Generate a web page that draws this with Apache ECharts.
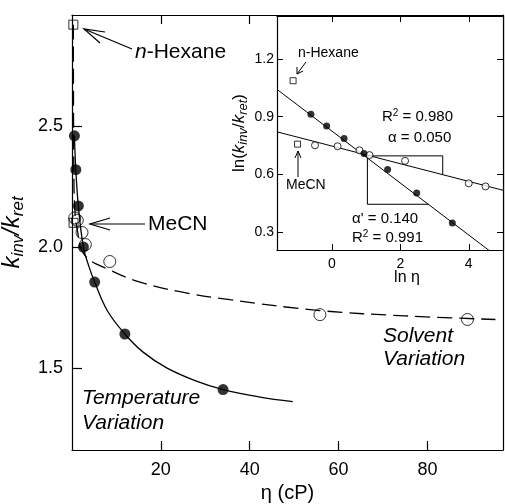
<!DOCTYPE html>
<html>
<head>
<meta charset="utf-8">
<script src="https://cdn.jsdelivr.net/npm/echarts@6/dist/echarts.min.js"></script>
<style>
html,body{margin:0;padding:0;background:#fff;}
#c{width:505px;height:504px;}
</style>
</head>
<body>
<div id="c"></div>
<script>
// ---------- Main panel data (η in cP, k_inv/k_ret) ----------
var tempEta = [0.54, 0.86, 1.43, 2.56, 5.1, 11.9, 34.0];
var tempK   = [2.46, 2.32, 2.17, 2.00, 1.855, 1.64, 1.41];
var solvEta = [0.61, 1.19, 2.25, 3.0, 8.5, 55.8, 89.0];
var solvK   = [2.12, 2.11, 2.06, 2.01, 1.94, 1.72, 1.70];
var sqEta   = [0.3, 0.35];
var sqK     = [2.92, 2.10];
// fitted curves
var tempCurveEta = [0.54, 0.86, 1.43, 2.56, 3.8, 5.1, 8.0, 11.9, 16.0, 21.3, 28.0, 34.0, 42.0, 49.7];
var tempCurveK   = [2.46, 2.32, 2.17, 2.00, 1.92, 1.855, 1.735, 1.64, 1.565, 1.50, 1.445, 1.41, 1.38, 1.36];
var solvCurveEta = [0.3, 0.33, 0.4, 0.6, 1.2, 2.9, 8.5, 15.3, 24.3, 35.5, 55.8, 75.0, 95.3];
var solvCurveK   = [2.92, 2.65, 2.35, 2.17, 2.07, 1.965, 1.905, 1.855, 1.815, 1.782, 1.737, 1.715, 1.70];
var mainXTicks = [20, 40, 60, 80];
var mainYTicks = [1.5, 2.0, 2.5];

// ---------- Inset data (ln η, ln(k_inv/k_ret)) ----------
var inTempLnEta = [-0.61, -0.15, 0.36, 0.94, 1.63, 2.48, 3.52];
var inTempLnK   = [0.912, 0.852, 0.786, 0.708, 0.625, 0.503, 0.346];
var inSolvLnEta = [-0.49, 0.17, 0.81, 1.10, 2.14, 4.00, 4.49];
var inSolvLnK   = [0.751, 0.746, 0.725, 0.700, 0.670, 0.553, 0.537];
var inSqLnEta   = [-1.13, -1.0];
var inSqLnK     = [1.087, 0.757];
var fitTempX = [-1.6, 4.62];
var fitTempY = [1.042, 0.20];
var fitSolvX = [-1.6, 5.0];
var fitSolvY = [0.821, 0.517];
var triUpX = [1.04, 3.24, 3.24];
var triUpY = [0.696, 0.696, 0.598];
var triLoX = [1.04, 1.04, 2.83];
var triLoY = [0.696, 0.444, 0.444];
var inXTicks = [0, 2, 4];
var inYTicks = [0.3, 0.6, 0.9, 1.2];

function zip(a, b) { return a.map(function (v, i) { return [v, b[i]]; }); }

var FF = 'Liberation Sans, Arial, Helvetica, sans-serif';
var LW = 1.2;

var chart = echarts.init(document.getElementById('c'), null, {renderer: 'canvas'});

function mkAxis(o) {
  var base = {
    type: 'value',
    splitLine: {show: false},
    axisLine: {show: true, onZero: false, lineStyle: {color: '#000', width: LW}},
    axisTick: {show: true, inside: true, length: 9, lineStyle: {color: '#000', width: LW}},
    axisLabel: {show: false, color: '#000', fontFamily: FF},
    nameTextStyle: {color: '#000', fontFamily: FF}
  };
  return Object.assign(base, o);
}

var option = {
  animation: false,
  backgroundColor: '#fff',
  textStyle: {fontFamily: FF},
  grid: [
    {left: 72, top: 15, width: 431, height: 435, show: false, z: 0, containLabel: false, outerBoundsMode: 'none'},
    {left: 277, top: 16, width: 226, height: 234, show: true, backgroundColor: '#fff', borderWidth: 0, z: 10,
      containLabel: false, outerBoundsMode: 'none'}
  ],
  xAxis: [
    mkAxis({gridIndex: 0, position: 'bottom', min: 0, max: 97,
      axisTick: {show: true, inside: true, length: 9, customValues: mainXTicks, lineStyle: {color: '#000', width: LW}},
      axisLabel: {show: true, customValues: mainXTicks, fontSize: 18, margin: 11, color: '#000', fontFamily: FF},
      name: 'η (cP)', nameLocation: 'middle', nameGap: 28,
      nameTextStyle: {fontSize: 20, color: '#000', fontFamily: FF}}),
    mkAxis({gridIndex: 0, position: 'top', min: 0, max: 97,
      axisTick: {show: true, inside: true, length: 9, customValues: mainXTicks, lineStyle: {color: '#000', width: LW}}}),
    mkAxis({gridIndex: 1, position: 'bottom', min: -1.6, max: 5.0, z: 12,
      axisTick: {show: true, inside: true, length: 6, customValues: inXTicks, lineStyle: {color: '#000', width: 1}},
      axisLabel: {show: true, customValues: inXTicks, fontSize: 14, margin: 7, color: '#000', fontFamily: FF}}),
    mkAxis({gridIndex: 1, position: 'top', min: -1.6, max: 5.0, z: 12,
      axisTick: {show: true, inside: true, length: 6, customValues: inXTicks, lineStyle: {color: '#000', width: 1}}})
  ],
  yAxis: [
    mkAxis({gridIndex: 0, position: 'left', min: 1.16, max: 2.96,
      axisTick: {show: true, inside: true, length: 10, customValues: mainYTicks, lineStyle: {color: '#000', width: LW}},
      axisLabel: {show: true, customValues: mainYTicks, fontSize: 18, margin: 9, color: '#000', fontFamily: FF,
        formatter: function (v) { return v.toFixed(1); }},
      name: '{k|k}{s|inv}{k|/k}{s|ret}', nameLocation: 'middle', nameGap: 38,
      nameTextStyle: {color: '#000', fontFamily: FF,
        rich: {
          k: {fontSize: 24, fontStyle: 'italic', lineHeight: 30, fontFamily: FF, color: '#000'},
          s: {fontSize: 17, fontStyle: 'italic', lineHeight: 16, verticalAlign: 'bottom', fontFamily: FF, color: '#000'}
        }}}),
    mkAxis({gridIndex: 0, position: 'right', min: 1.16, max: 2.96, axisTick: {show: false}}),
    mkAxis({gridIndex: 1, position: 'left', min: 0.206, max: 1.424, z: 12,
      axisTick: {show: true, inside: true, length: 6, customValues: inYTicks, lineStyle: {color: '#000', width: 1}},
      axisLabel: {show: true, customValues: inYTicks, fontSize: 14, margin: 3, color: '#000', fontFamily: FF,
        formatter: function (v) { return v.toFixed(1); }},
      name: '{n|ln(}{k|k}{s|inv}{n|/}{k|k}{s|ret}{n|)}', nameLocation: 'middle', nameGap: 27,
      nameTextStyle: {color: '#000', fontFamily: FF,
        rich: {
          n: {fontSize: 17, lineHeight: 22, fontFamily: FF, color: '#000'},
          k: {fontSize: 17, fontStyle: 'italic', lineHeight: 22, fontFamily: FF, color: '#000'},
          s: {fontSize: 13, fontStyle: 'italic', lineHeight: 12, verticalAlign: 'bottom', fontFamily: FF, color: '#000'}
        }}}),
    mkAxis({gridIndex: 1, position: 'right', min: 0.206, max: 1.424, z: 12,
      axisTick: {show: true, inside: true, length: 6, customValues: inYTicks, lineStyle: {color: '#000', width: 1}}})
  ],
  series: [
    // main panel
    {type: 'line', xAxisIndex: 0, yAxisIndex: 0, data: zip(tempCurveEta, tempCurveK), showSymbol: false,
      smooth: 0.4, lineStyle: {color: '#000', width: 1.3}, silent: true, z: 2},
    {type: 'line', xAxisIndex: 0, yAxisIndex: 0, data: zip(solvCurveEta, solvCurveK), showSymbol: false,
      smooth: 0.4, lineStyle: {color: '#000', width: 1.3, type: [15, 7]}, silent: true, z: 2},
    {type: 'scatter', xAxisIndex: 0, yAxisIndex: 0, data: zip(solvEta, solvK), symbol: 'circle', symbolSize: 12,
      itemStyle: {color: 'rgba(255,255,255,0)', borderColor: '#000', borderWidth: 1}, z: 3},
    {type: 'scatter', xAxisIndex: 0, yAxisIndex: 0, data: zip(tempEta, tempK), symbol: 'circle', symbolSize: 11,
      itemStyle: {color: '#000'}, z: 4},
    {type: 'scatter', xAxisIndex: 0, yAxisIndex: 0, data: zip(sqEta, sqK), symbol: 'rect', symbolSize: 9,
      itemStyle: {color: 'rgba(255,255,255,0)', borderColor: '#000', borderWidth: 1}, z: 4},
    // inset
    {type: 'line', xAxisIndex: 2, yAxisIndex: 2, data: zip(fitTempX, fitTempY), showSymbol: false,
      lineStyle: {color: '#000', width: 1}, silent: true, z: 12},
    {type: 'line', xAxisIndex: 2, yAxisIndex: 2, data: zip(fitSolvX, fitSolvY), showSymbol: false,
      lineStyle: {color: '#000', width: 1}, silent: true, z: 12},
    {type: 'line', xAxisIndex: 2, yAxisIndex: 2, data: zip(triUpX, triUpY), showSymbol: false,
      lineStyle: {color: '#000', width: 1}, silent: true, z: 12},
    {type: 'line', xAxisIndex: 2, yAxisIndex: 2, data: zip(triLoX, triLoY), showSymbol: false,
      lineStyle: {color: '#000', width: 1}, silent: true, z: 12},
    {type: 'scatter', xAxisIndex: 2, yAxisIndex: 2, data: zip(inSolvLnEta, inSolvLnK), symbol: 'circle', symbolSize: 7,
      itemStyle: {color: '#fff', borderColor: '#000', borderWidth: 1}, z: 13},
    {type: 'scatter', xAxisIndex: 2, yAxisIndex: 2, data: zip(inTempLnEta, inTempLnK), symbol: 'circle', symbolSize: 7,
      itemStyle: {color: '#000'}, z: 13},
    {type: 'scatter', xAxisIndex: 2, yAxisIndex: 2, data: zip(inSqLnEta, inSqLnK), symbol: 'rect', symbolSize: 6,
      itemStyle: {color: '#fff', borderColor: '#000', borderWidth: 1}, z: 13}
  ],
  graphic: [
    // main annotations
    {type: 'text', z: 100, style: {x: 135, y: 52, text: '{i|n}{r|-Hexane}', verticalAlign: 'middle',
      rich: {i: {fontSize: 21, fontStyle: 'italic', fontFamily: FF, fill: '#000'}, r: {fontSize: 21, fontFamily: FF, fill: '#000'}}}},
    {type: 'polyline', z: 100, shape: {points: [[132, 49], [84, 29]]}, style: {stroke: '#000', lineWidth: 1.2, fill: null}},
    {type: 'polyline', z: 100, shape: {points: [[105, 32], [84, 29], [100, 43]]}, style: {stroke: '#000', lineWidth: 1.2, fill: null}},
    {type: 'text', z: 100, style: {x: 148, y: 224, text: 'MeCN', verticalAlign: 'middle', fontSize: 21, fontFamily: FF, fill: '#000'}},
    {type: 'polyline', z: 100, shape: {points: [[145, 224], [90, 224]]}, style: {stroke: '#000', lineWidth: 1.2, fill: null}},
    {type: 'polyline', z: 100, shape: {points: [[110, 218], [90, 224], [110, 230]]}, style: {stroke: '#000', lineWidth: 1.2, fill: null}},
    {type: 'text', z: 100, style: {x: 82, y: 386, text: 'Temperature\nVariation', verticalAlign: 'top', fontSize: 21,
      fontStyle: 'italic', lineHeight: 25, fontFamily: FF, fill: '#000'}},
    {type: 'text', z: 100, style: {x: 383, y: 325, text: 'Solvent\nVariation', verticalAlign: 'top', fontSize: 21,
      fontStyle: 'italic', lineHeight: 23, fontFamily: FF, fill: '#000'}},
    // inset annotations
    {type: 'text', z: 100, style: {x: 298, y: 53, text: 'n-Hexane', verticalAlign: 'middle', fontSize: 14, fontFamily: FF, fill: '#000'}},
    {type: 'polyline', z: 100, shape: {points: [[306, 62], [297, 74]]}, style: {stroke: '#000', lineWidth: 1, fill: null}},
    {type: 'polyline', z: 100, shape: {points: [[297, 67], [297, 74], [303, 71]]}, style: {stroke: '#000', lineWidth: 1, fill: null}},
    {type: 'text', z: 100, style: {x: 286, y: 185, text: 'MeCN', verticalAlign: 'middle', fontSize: 14, fontFamily: FF, fill: '#000'}},
    {type: 'polyline', z: 100, shape: {points: [[298, 177], [298, 151]]}, style: {stroke: '#000', lineWidth: 1, fill: null}},
    {type: 'polyline', z: 100, shape: {points: [[295, 158], [298, 151], [301, 158]]}, style: {stroke: '#000', lineWidth: 1, fill: null}},
    {type: 'text', z: 100, style: {x: 382, y: 117, text: '{n|R}{s|2}{n| = 0.980}', verticalAlign: 'middle',
      rich: {n: {fontSize: 15, lineHeight: 18, fontFamily: FF, fill: '#000'}, s: {fontSize: 10, lineHeight: 8, verticalAlign: 'top', fontFamily: FF, fill: '#000'}}}},
    {type: 'text', z: 100, style: {x: 388, y: 138, text: 'α = 0.050', verticalAlign: 'middle', fontSize: 15, fontFamily: FF, fill: '#000'}},
    {type: 'text', z: 100, style: {x: 352, y: 219, text: "α' = 0.140", verticalAlign: 'middle', fontSize: 15, fontFamily: FF, fill: '#000'}},
    {type: 'text', z: 100, style: {x: 352, y: 238, text: '{n|R}{s|2}{n| = 0.991}', verticalAlign: 'middle',
      rich: {n: {fontSize: 15, lineHeight: 18, fontFamily: FF, fill: '#000'}, s: {fontSize: 10, lineHeight: 8, verticalAlign: 'top', fontFamily: FF, fill: '#000'}}}},
    {type: 'text', z: 100, style: {x: 407, y: 278, text: 'ln η', align: 'center', verticalAlign: 'middle', fontSize: 16, fontFamily: FF, fill: '#000'}}
  ]
};
chart.setOption(option);
</script>
</body>
</html>
